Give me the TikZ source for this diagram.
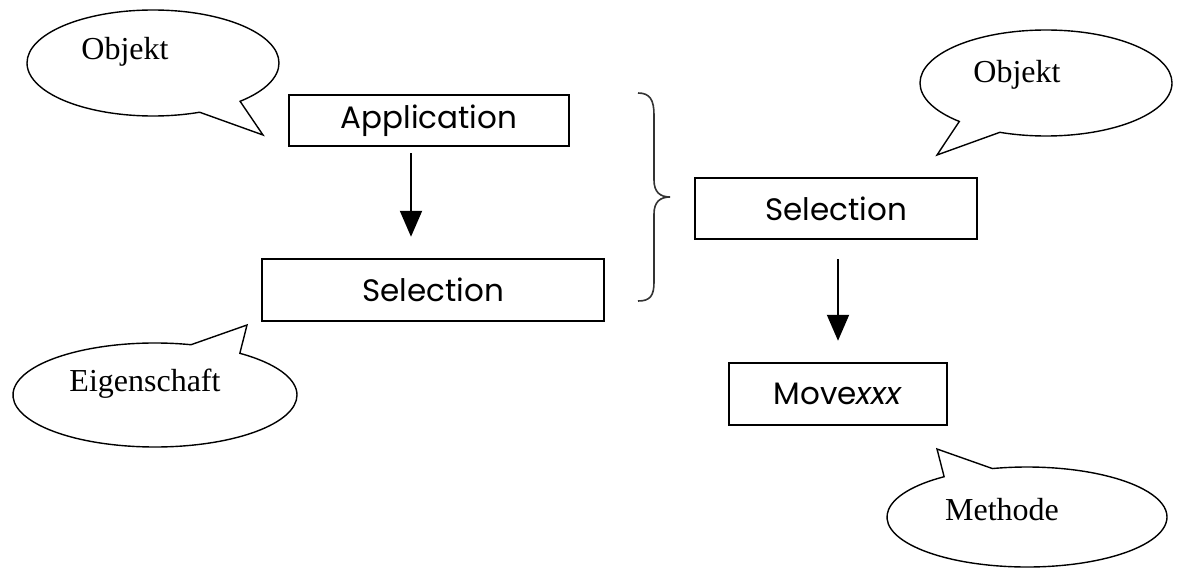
\documentclass[tikz,border=0pt]{standalone}
\usepackage{fontspec}
\setmainfont{Liberation Serif}
\newfontfamily\boxfont{Poppins}
\usetikzlibrary{shapes.callouts,arrows.meta}

\begin{document}
\begin{tikzpicture}[x=1pt,y=-1pt,
    kasten/.style={draw, line width=2.5pt, inner sep=0pt, font=\boxfont\fontsize{31}{37}\selectfont},
    blase/.style={ellipse callout, draw, line width=1.4pt, fill=white, inner sep=0pt, callout pointer arc=22},
    blasetext/.style={font=\fontsize{32}{38}\selectfont},
    pfeil/.style={line width=2pt, -{Triangle[width=22pt,length=26pt]}}]
    \useasboundingbox (0,0) rectangle (1177,570);

    % Kaesten
    \node[kasten, minimum width=280pt, minimum height=51pt] (app) at (429,120.5) {Application};
    \node[kasten, minimum width=342pt, minimum height=62pt] (selL) at (433,290) {Selection};
    \node[kasten, minimum width=282pt, minimum height=61pt] (selR) at (836,208.5) {Selection};
    \node[kasten, minimum width=218pt, minimum height=62pt] (move) at (838,394) {Move\textit{xxx}};

    % Pfeile
    \draw[pfeil] ([xshift=-18pt,yshift=-6pt]app.south) -- ([xshift=-22pt,yshift=21pt]selL.north);
    \draw[pfeil] ([xshift=2pt,yshift=-19pt]selR.south) -- ([yshift=21pt]move.north);

    % Klammer
    \draw[line width=1.6pt, black!80] (638,93) .. controls (650,93) and (654,100) .. (654,115) -- (654,180)
        .. controls (654,192) and (660,197) .. (670,197)
        .. controls (660,197) and (654,202) .. (654,214) -- (654,282)
        .. controls (654,296) and (650,301) .. (638,301);

    % Sprechblasen
    \node[blase, minimum width=252pt, minimum height=106pt, callout absolute pointer={(263,135)},
        label={[blasetext,shift={(-28,-11)}]center:Objekt}] (objA) at (153,63) {};
    \node[blase, minimum width=252pt, minimum height=106pt, callout absolute pointer={(937,155)},
        label={[blasetext,shift={(-29,-8)}]center:Objekt}] (objB) at (1046,83) {};
    \node[blase, minimum width=284pt, minimum height=104pt, callout absolute pointer={(247,325)},
        label={[blasetext,shift={(-10,-11)}]center:Eigenschaft}] (eig) at (155,395) {};
    \node[blase, minimum width=280pt, minimum height=100pt, callout absolute pointer={(937,449)},
        label={[blasetext,shift={(-25,-7)}]center:Methode}] (meth) at (1027,517) {};
\end{tikzpicture}
\end{document}
